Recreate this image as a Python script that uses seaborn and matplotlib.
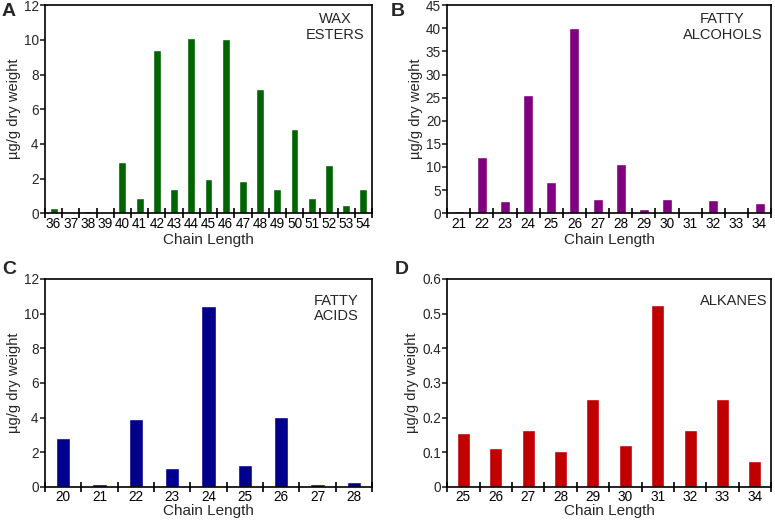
import matplotlib
matplotlib.use("Agg")
import matplotlib.pyplot as plt
import seaborn as sns
import pandas as pd
import numpy as np

sns.set_style("ticks")
plt.rcParams['font.family'] = ['Liberation Sans', 'DejaVu Sans']

wax_len = ["36", "37", "38", "39", "40", "41", "42", "43", "44", "45", "46", "47", "48", "49", "50", "51", "52", "53", "54"]
wax_val = [0.3, 0.0, 0.15, 0.05, 2.95, 0.9, 9.4, 1.4, 10.1, 2.0, 10.05, 1.85, 7.15, 1.4, 4.85, 0.85, 2.8, 0.5, 1.4]

alc_len = ["21", "22", "23", "24", "25", "26", "27", "28", "29", "30", "31", "32", "33", "34"]
alc_val = [0.5, 12.1, 2.6, 25.6, 6.8, 40.1, 3.1, 10.6, 0.9, 3.1, 0.3, 2.8, 0.3, 2.3]

acid_len = ["20", "21", "22", "23", "24", "25", "26", "27", "28"]
acid_val = [2.85, 0.2, 3.95, 1.1, 10.45, 1.25, 4.05, 0.15, 0.3]

alk_len = ["25", "26", "27", "28", "29", "30", "31", "32", "33", "34"]
alk_val = [0.157, 0.113, 0.163, 0.105, 0.255, 0.122, 0.525, 0.165, 0.255, 0.075]

W, H = 775, 520
fig = plt.figure(figsize=(W / 100, H / 100), dpi=100)

panels = [
    ("A", wax_len, wax_val, "#006400", "WAX\nESTERS", [0.058, 0.590, 0.422, 0.400], np.arange(0, 13, 2), 12, (0.887, 0.965), (9, 11), 0.46, 1.5, 3),
    ("B", alc_len, alc_val, "#800080", "FATTY\nALCOHOLS", [0.577, 0.590, 0.418, 0.400], np.arange(0, 46, 5), 45, (0.85, 0.965), (398, 11), 0.43, 1.5, 3),
    ("C", acid_len, acid_val, "#00008C", "FATTY\nACIDS", [0.058, 0.0635, 0.422, 0.400], np.arange(0, 13, 2), 12, (0.89, 0.93), (9, 270), 0.39, 0, 2),
    ("D", alk_len, alk_val, "#C00000", "ALKANES", [0.577, 0.0635, 0.418, 0.400], np.round(np.arange(0, 0.61, 0.1), 1), 0.6, (0.886, 0.93), (402, 270), 0.40, 0, 2),
]

for letter, labels, vals, color, title, pos, yticks, ymax, tpos, lpos, bw, xlp, tpad in panels:
    ax = fig.add_axes(pos)
    df = pd.DataFrame({"len": labels, "val": vals})
    sns.barplot(data=df, x="len", y="val", color=color, saturation=1, width=bw, ax=ax, order=labels)
    n = len(labels)
    ax.set_xlim(-0.5, n - 0.5)
    ax.set_ylim(0, ymax)
    ax.set_xticks(np.arange(-0.5, n, 1.0))
    ax.set_xticklabels([])
    ax.set_xticks(np.arange(n), minor=True)
    ax.set_xticklabels(labels, minor=True)
    ax.tick_params(axis="x", which="major", direction="inout", length=7, width=1.2, color="black")
    ax.tick_params(axis="x", which="minor", length=0, labelsize=9.8, pad=tpad, colors="black")
    ax.set_yticks(yticks)
    ax.set_yticklabels([("%g" % v) for v in yticks])
    ax.tick_params(axis="y", direction="out", length=3.5, width=1.2, labelsize=9.8, pad=1)
    for s in ax.spines.values():
        s.set_linewidth(1.2)
        s.set_color("black")
        s.set_visible(True)
    ax.set_xlabel("Chain Length", fontsize=11, labelpad=xlp)
    ax.set_ylabel("µg/g dry weight", fontsize=10.5, labelpad=2)
    ax.text(tpos[0], tpos[1], title, transform=ax.transAxes, ha="center", va="top",
            fontsize=10.5, linespacing=1.15)
    fig.text(lpos[0] / W, 1 - lpos[1] / H, letter, ha="center", va="center",
             fontsize=14, fontweight="bold")

fig.savefig("out.png", dpi=100)
